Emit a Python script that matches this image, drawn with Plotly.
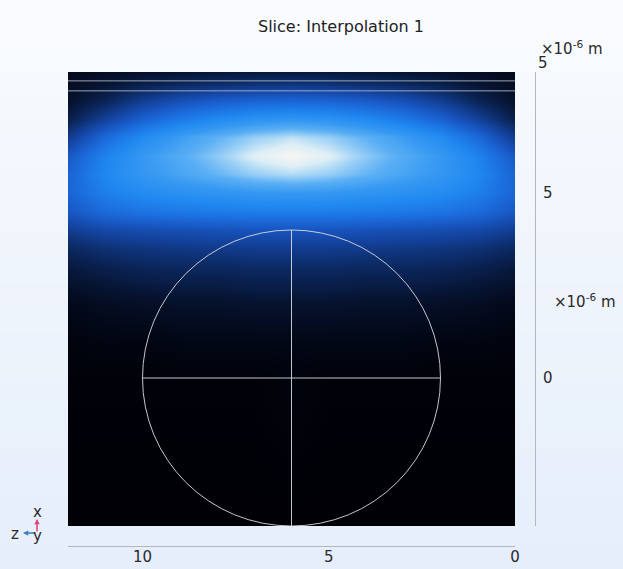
import plotly.graph_objects as go

# ---------------- data ----------------
title_text = "Slice: Interpolation 1"

# grid coordinates (micrometres)
x_um = [0, 1, 2, 3, 4, 5, 6, 7, 8, 9, 10, 11, 12]
y_um = [-4, 0, 1, 2, 3, 3.5, 4, 4.5, 5, 5.5, 6, 6.5, 7, 7.5, 8, 8.3]

# normalised field intensity, one row per y_um value (bottom -> top)
intensity = [
    [0.00, 0.00, 0.00, 0.00, 0.00, 0.00, 0.00, 0.00, 0.00, 0.00, 0.00, 0.00, 0.00],
    [0.01, 0.01, 0.01, 0.01, 0.01, 0.01, 0.02, 0.01, 0.01, 0.01, 0.01, 0.01, 0.01],
    [0.02, 0.03, 0.03, 0.04, 0.04, 0.04, 0.04, 0.04, 0.04, 0.04, 0.03, 0.03, 0.02],
    [0.05, 0.07, 0.08, 0.09, 0.09, 0.10, 0.10, 0.10, 0.09, 0.09, 0.08, 0.07, 0.05],
    [0.13, 0.16, 0.18, 0.19, 0.19, 0.20, 0.20, 0.20, 0.19, 0.19, 0.18, 0.16, 0.13],
    [0.19, 0.23, 0.25, 0.26, 0.27, 0.28, 0.28, 0.28, 0.27, 0.26, 0.25, 0.23, 0.19],
    [0.28, 0.33, 0.35, 0.36, 0.37, 0.38, 0.38, 0.38, 0.37, 0.36, 0.35, 0.33, 0.28],
    [0.40, 0.48, 0.52, 0.54, 0.55, 0.56, 0.56, 0.56, 0.55, 0.54, 0.52, 0.48, 0.40],
    [0.45, 0.56, 0.62, 0.65, 0.67, 0.69, 0.70, 0.69, 0.67, 0.65, 0.62, 0.56, 0.45],
    [0.45, 0.60, 0.69, 0.75, 0.81, 0.87, 0.90, 0.87, 0.81, 0.75, 0.69, 0.60, 0.45],
    [0.40, 0.58, 0.70, 0.78, 0.86, 0.95, 1.00, 0.95, 0.86, 0.78, 0.70, 0.58, 0.40],
    [0.27, 0.47, 0.62, 0.72, 0.80, 0.87, 0.91, 0.87, 0.80, 0.72, 0.62, 0.47, 0.27],
    [0.15, 0.30, 0.44, 0.54, 0.61, 0.66, 0.68, 0.66, 0.61, 0.54, 0.44, 0.30, 0.15],
    [0.09, 0.17, 0.28, 0.36, 0.41, 0.44, 0.45, 0.44, 0.41, 0.36, 0.28, 0.17, 0.09],
    [0.07, 0.10, 0.14, 0.17, 0.19, 0.21, 0.22, 0.21, 0.19, 0.17, 0.14, 0.10, 0.07],
    [0.05, 0.07, 0.09, 0.10, 0.11, 0.12, 0.12, 0.12, 0.11, 0.10, 0.09, 0.07, 0.05],
]

# geometry
circle_center = (6, 0)
circle_radius = 4
boundary_lines_y = [8.03, 7.76]
x_range = [12, 0]
y_range = [-4, 8.27]

x_tick_vals = [10, 5, 0]
x_tick_text = ["10", "5", "0"]
y_tick_vals = [5, 0]
y_tick_text = ["5", "0"]
unit_label = "×10<sup>-6</sup> m"

# ---------------- layout helpers ----------------
W, H = 623, 569
L, R_EDGE, T, B_EDGE = 68, 535, 72, 546   # paper area in pixels
PW, PH = R_EDGE - L, B_EDGE - T


def px(xp):
    return (xp - L) / PW


def py(yp):
    return (B_EDGE - yp) / PH


colorscale = [
    [0.00, "#000005"],
    [0.10, "#06122e"],
    [0.20, "#0c2a64"],
    [0.30, "#13419a"],
    [0.40, "#1858c4"],
    [0.50, "#1c70e0"],
    [0.60, "#2088f0"],
    [0.70, "#3598f2"],
    [0.80, "#5cb0f4"],
    [0.88, "#a0d2f6"],
    [0.94, "#dceef6"],
    [1.00, "#f7f5f0"],
]

fig = go.Figure()
fig.add_trace(go.Heatmap(
    x=x_um, y=y_um, z=intensity,
    colorscale=colorscale, zmin=0, zmax=1,
    zsmooth="best", showscale=False, hoverinfo="skip",
))

shapes = []
# background gradient bands
top_c = (249, 251, 254)
bot_c = (229, 238, 250)
nb = 24
for i in range(nb):
    f = (i + 0.5) / nb
    c = tuple(round(top_c[k] + (bot_c[k] - top_c[k]) * f) for k in range(3))
    y0p = i * H / nb
    y1p = (i + 1) * H / nb + 1
    shapes.append(dict(type="rect", xref="paper", yref="paper",
                       x0=px(0), x1=px(W), y0=py(y1p), y1=py(y0p),
                       fillcolor="rgb(%d,%d,%d)" % c, line=dict(width=0),
                       layer="below"))

geo_line = dict(color="rgba(215,218,224,0.9)", width=1)
cx, cy = circle_center
shapes.append(dict(type="circle", xref="x", yref="y",
                   x0=cx - circle_radius, x1=cx + circle_radius,
                   y0=cy - circle_radius, y1=cy + circle_radius,
                   line=geo_line, layer="above"))
shapes.append(dict(type="line", xref="x", yref="y", x0=cx, x1=cx,
                   y0=cy - circle_radius, y1=cy + circle_radius,
                   line=geo_line, layer="above"))
shapes.append(dict(type="line", xref="x", yref="y",
                   x0=cx - circle_radius, x1=cx + circle_radius,
                   y0=cy, y1=cy, line=geo_line, layer="above"))
for yb in boundary_lines_y:
    shapes.append(dict(type="line", xref="x", yref="y",
                       x0=x_range[0], x1=x_range[1], y0=yb, y1=yb,
                       line=dict(color="rgba(170,182,200,0.9)", width=1),
                       layer="above"))

font_txt = dict(family="DejaVu Sans", size=15, color="#2a2a2a")
annotations = [
    dict(text=title_text, xref="paper", yref="paper", x=px(341), y=py(27),
         xanchor="center", yanchor="middle", showarrow=False,
         font=dict(family="DejaVu Sans", size=16, color="#222")),
    dict(text=unit_label, xref="paper", yref="paper", x=px(539), y=py(48),
         xanchor="left", yanchor="middle", showarrow=False, font=font_txt),
    dict(text="5", xref="paper", yref="paper", x=px(543), y=py(63),
         xanchor="center", yanchor="middle", showarrow=False, font=font_txt),
    dict(text=unit_label, xref="paper", yref="paper", x=px(552), y=py(301),
         xanchor="left", yanchor="middle", showarrow=False, font=font_txt),
    # axis triad
    dict(text="", xref="paper", yref="paper", x=px(37), y=py(519),
         ax=0, ay=14, showarrow=True, arrowhead=2, arrowsize=0.7,
         arrowwidth=1.5, arrowcolor="#e0407a"),
    dict(text="", xref="paper", yref="paper", x=px(23), y=py(533),
         ax=14, ay=0, showarrow=True, arrowhead=2, arrowsize=0.7,
         arrowwidth=1.5, arrowcolor="#3a7fc0"),
    dict(text="x", xref="paper", yref="paper", x=px(37), y=py(512),
         xanchor="center", yanchor="middle", showarrow=False, font=font_txt),
    dict(text="z", xref="paper", yref="paper", x=px(15), y=py(534),
         xanchor="center", yanchor="middle", showarrow=False, font=font_txt),
    dict(text="y", xref="paper", yref="paper", x=px(37), y=py(536),
         xanchor="center", yanchor="middle", showarrow=False, font=font_txt),
]

fig.update_layout(
    width=W, height=H,
    margin=dict(l=L, r=W - R_EDGE, t=T, b=H - B_EDGE, pad=0,
                autoexpand=False),
    paper_bgcolor="#f0f5fc", plot_bgcolor="rgba(0,0,0,0)",
    showlegend=False,
    shapes=shapes, annotations=annotations,
    xaxis=dict(range=x_range, domain=[0, (515 - L) / PW], anchor="free",
               position=0, showline=True, linecolor="#b4b8be", linewidth=1,
               showgrid=False, zeroline=False, ticks="", automargin=False,
               tickvals=x_tick_vals, ticktext=x_tick_text,
               tickfont=font_txt, ticklabelstandoff=-3),
    yaxis=dict(range=y_range, domain=[(B_EDGE - 526) / PH, 1], anchor="free",
               position=1, side="right", showline=True, linecolor="#b4b8be",
               linewidth=1, showgrid=False, zeroline=False, ticks="",
               automargin=False,
               tickvals=y_tick_vals, ticktext=y_tick_text,
               tickfont=font_txt, ticklabelstandoff=4),
)

fig.write_html("out.html", config={"displayModeBar": False},
               post_script="document.body.style.margin='0';")
